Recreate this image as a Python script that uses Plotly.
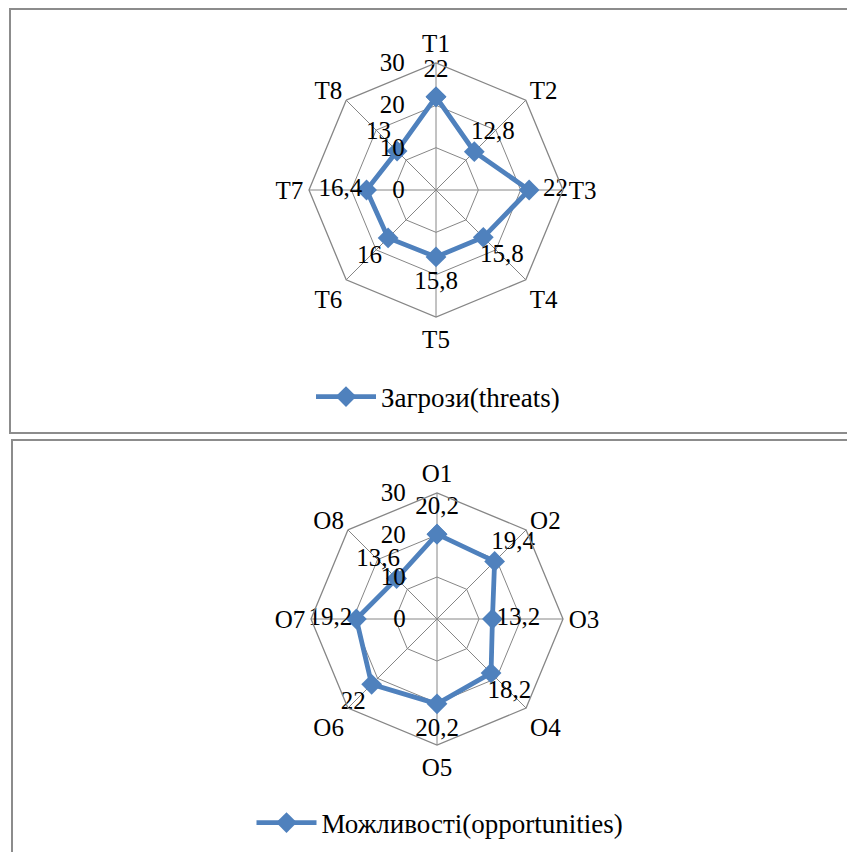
import plotly.graph_objects as go

threat_cats = ["T1", "T2", "T3", "T4", "T5", "T6", "T7", "T8"]
threat_vals = [22, 12.8, 22, 15.8, 15.8, 16, 16.4, 13]

opp_cats = ["O1", "O2", "O3", "O4", "O5", "O6", "O7", "O8"]
opp_vals = [20.2, 19.4, 13.2, 18.2, 20.2, 22, 19.2, 13.6]

radial_ticks = [0, 10, 20, 30]

W, H = 847, 852
BLUE = "#4F81BD"
GRID = "#868686"
FONT = "Liberation Serif, Times New Roman, serif"
LABEL_GAP = 6.2  # data labels sit this far (in r units) outside the point


def fmt(v):
    return f"{v:g}".replace(".", ",")


def px_x(x):
    return x / W


def px_y(y):
    return 1 - y / H


fig = go.Figure()

for cats, vals, name, sub, leg in [
    (threat_cats, threat_vals, "Загрози(threats)", "polar", "legend"),
    (opp_cats, opp_vals, "Можливості(opportunities)", "polar2", "legend2"),
]:
    fig.add_trace(
        go.Scatterpolar(
            r=vals + vals[:1],
            theta=cats + cats[:1],
            mode="lines+markers",
            line=dict(color=BLUE, width=4.8),
            marker=dict(symbol="diamond", size=16, color=BLUE),
            name=name,
            subplot=sub,
            legend=leg,
            showlegend=True,
            cliponaxis=False,
        )
    )
    fig.add_trace(
        go.Scatterpolar(
            r=[v + LABEL_GAP for v in vals],
            theta=cats,
            mode="text",
            text=[fmt(v) for v in vals],
            textposition="middle center",
            textfont=dict(family=FONT, size=25, color="black"),
            subplot=sub,
            showlegend=False,
            hoverinfo="skip",
            cliponaxis=False,
        )
    )


def polar_layout(cx, cy, r):
    return dict(
        domain=dict(x=[px_x(cx - r), px_x(cx + r)], y=[px_y(cy + r), px_y(cy - r)]),
        gridshape="linear",
        bgcolor="white",
        angularaxis=dict(
            rotation=90,
            direction="clockwise",
            showline=True,
            linecolor=GRID,
            linewidth=1.3,
            gridcolor=GRID,
            gridwidth=1.3,
            ticks="",
            tickfont=dict(family=FONT, size=25, color="black"),
        ),
        radialaxis=dict(
            range=[0, 30],
            tickvals=radial_ticks,
            angle=90,
            side="counterclockwise",
            showline=False,
            gridcolor=GRID,
            gridwidth=1.3,
            ticks="outside",
            ticklen=22,
            tickcolor="rgba(0,0,0,0)",
            tickangle=90,
            tickfont=dict(family=FONT, size=25, color="black"),
        ),
    )


legend_style = dict(
    orientation="h",
    xanchor="center",
    yanchor="middle",
    font=dict(family=FONT, size=27, color="black"),
    itemwidth=60,
    bgcolor="rgba(0,0,0,0)",
)

fig.update_layout(
    width=W,
    height=H,
    margin=dict(l=0, r=0, t=0, b=0),
    paper_bgcolor="white",
    showlegend=True,
    polar=polar_layout(436, 190, 127),
    polar2=polar_layout(437, 619, 126),
    legend=dict(legend_style, x=px_x(438), y=px_y(397)),
    legend2=dict(legend_style, x=px_x(440), y=px_y(823)),
    shapes=[
        dict(type="rect", xref="paper", yref="paper",
             x0=px_x(10), x1=px_x(870), y0=px_y(433), y1=px_y(9),
             line=dict(color="#8C8C8C", width=2)),
        dict(type="rect", xref="paper", yref="paper",
             x0=px_x(12), x1=px_x(870), y0=px_y(880), y1=px_y(440),
             line=dict(color="#8C8C8C", width=2)),
    ],
)

fig.write_html(
    "out.html",
    config={"displayModeBar": False},
    post_script="document.body.style.margin='0';document.body.style.overflow='hidden';",
)
